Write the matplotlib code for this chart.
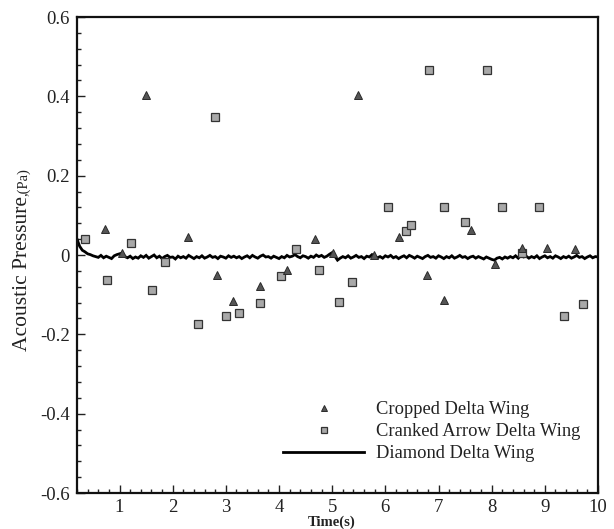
import numpy as np
import matplotlib
matplotlib.use("Agg")
import matplotlib.pyplot as plt
from matplotlib.ticker import MultipleLocator

# ---------------- data ----------------
cropped_t = [0.72, 1.05, 1.50, 2.29, 2.83, 3.14, 3.65, 4.15, 4.68, 5.02,
             5.48, 5.78, 6.26, 6.78, 7.10, 7.62, 8.07, 8.57, 9.04, 9.57]
cropped_p = [0.065, 0.004, 0.403, 0.046, -0.050, -0.117, -0.077, -0.037, 0.041, 0.004,
             0.403, 0.001, 0.046, -0.050, -0.113, 0.063, -0.022, 0.018, 0.018, 0.015]

cranked_t = [0.35, 0.77, 1.225, 1.61, 1.86, 2.47, 2.80, 3.01, 3.25, 3.64,
             4.04, 4.31, 4.75, 5.13, 5.38, 6.05, 6.38, 6.48, 6.83, 7.10,
             7.49, 7.92, 8.19, 8.57, 8.89, 9.36, 9.71]
cranked_p = [0.041, -0.064, 0.031, -0.087, -0.018, -0.174, 0.349, -0.153, -0.145, -0.122,
             -0.053, 0.014, -0.037, -0.118, -0.069, 0.122, 0.060, 0.076, 0.466, 0.122,
             0.084, 0.466, 0.122, 0.004, 0.120, -0.153, -0.124]

# Diamond delta wing trace, sampled every 0.05 s from t = 0.20 s (values in mPa)
diamond_start = 0.20
diamond_step = 0.05
diamond_mPa = [
    40, 22, 12, 8, 3, 1, -2, -4, -6, -1, -7, -3, -6, -9, -2, 1,
    3, 5, -4, -7, -3, -9, -5, -8, -2, -6, -1, -8, -4, 0, -7, -3, -9, -4, -1, -6,
    -5, -10, -3, -7, -4, -8, -1, -5, -9, -4, -7, -2, -8, -5, -1, -6, -4, -9, -3, -5,
    -8, -2, -6, -3, -7, -4, -9, -5, -2, -7, -1, -5, -8, -3, 0, -5, -4, -8, -3, -6,
    -9, -4, -7, -1, -5, -3, 1, -4, -7, -2, -4, -8, -3, -6, 0, -4, -1, -6, -3, 2,
    6, -3, -13, -8, -4, -7, -2, -8, -5, -1, -6, -4, -9, -3, -5, 1, -3, -7, -4, -8,
    -2, -5, -1, -7, -4, -9, -5, -2, -7, -1, -4, -8, -3, -6, -9, -4, -1, -6, -4, -8,
    -2, -5, -9, -4, -7, -2, -8, -5, -1, -6, -4, -9, -5, -3, -8, -4, -7, -10, -5, -8,
    -11, -13, -8, -6, -10, -5, -8, -4, -7, -2, -8, -1, -5, -3, -8, -4, -7, -2, -9, -5,
    -2, -7, -4, -8, -2, -5, -9, -4, -7, -3, -8, -5, -1, -6, -4, -9, -5, -2, -7, -4,
    -5,
]

x_ticks = [1, 2, 3, 4, 5, 6, 7, 8, 9, 10]
x_ticklabels = ["1", "2", "3", "4", "5", "6", "7", "8", "9", "10"]
y_ticks = [-0.6, -0.4, -0.2, 0.0, 0.2, 0.4, 0.6]
y_ticklabels = ["-0.6", "-0.4", "-0.2", "0", "0.2", "0.4", "0.6"]

series_labels = ["Cropped Delta Wing", "Cranked Arrow Delta Wing", "Diamond Delta Wing"]

# ---------------- figure ----------------
plt.rcParams["font.family"] = ["Liberation Serif", "DejaVu Serif"]

W, H = 614, 529
fig = plt.figure(figsize=(W / 100, H / 100), dpi=100)
ax = fig.add_axes([77 / W, 1 - 493 / H, (598 - 77) / W, (493 - 17) / H])

diamond_t = diamond_start + diamond_step * np.arange(len(diamond_mPa))
diamond_p = np.array(diamond_mPa) / 1000.0

line, = ax.plot(diamond_t, diamond_p, color="black", lw=2.0, zorder=2,
                solid_joinstyle="miter", label=series_labels[2])
sq, = ax.plot(cranked_t, cranked_p, ls="none", marker="s", ms=5.8,
              mfc="#a8a8a8", mec="#333333", mew=0.9, zorder=3, label=series_labels[1])
tri, = ax.plot(cropped_t, cropped_p, ls="none", marker="^", ms=5.8,
               mfc="#555555", mec="#2a2a2a", mew=0.7, zorder=4, label=series_labels[0])

ax.set_xlim(0.2, 10)
ax.set_ylim(-0.6, 0.6)
ax.set_xticks(x_ticks)
ax.set_xticklabels(x_ticklabels)
ax.set_yticks(y_ticks)
ax.set_yticklabels(y_ticklabels)
ax.xaxis.set_minor_locator(MultipleLocator(0.2))
ax.yaxis.set_minor_locator(MultipleLocator(0.04))
ax.tick_params(which="both", direction="in", top=False, right=False, width=1.0,
               colors="#222222", labelcolor="#222222")
ax.tick_params(which="major", length=5.5, labelsize=13.5)
ax.tick_params(axis="x", which="major", pad=4)
ax.tick_params(axis="y", which="major", pad=5)
ax.tick_params(which="minor", length=3)
for s in ax.spines.values():
    s.set_linewidth(1.6)
    s.set_color("#111111")

# y label: "Acoustic Pressure" + smaller ",(Pa)"
fig.text(23 / W, 1 - 196 / H, "Acoustic Pressure", rotation=90, ha="center",
         va="top", fontsize=15.5, color="#222222")
fig.text(24 / W, 1 - 196 / H, ",(Pa)", rotation=90, ha="center",
         va="bottom", fontsize=10.5, color="#222222")

fig.text(332 / W, 0.0, "Time(s)", ha="center", va="bottom",
         fontsize=10.5, fontweight="bold", color="#222222")

leg = ax.legend(handles=[tri, sq, line], labels=series_labels,
                loc="upper left", bbox_to_anchor=(283 / W, 1 - 401 / H),
                bbox_transform=fig.transFigure, frameon=False, fontsize=13.3,
                handlelength=4.4, handletextpad=0.65, labelspacing=0.27,
                borderpad=0, borderaxespad=0, markerscale=0.8)
for t in leg.get_texts():
    t.set_color("#222222")

fig.savefig("out.png", dpi=100)
